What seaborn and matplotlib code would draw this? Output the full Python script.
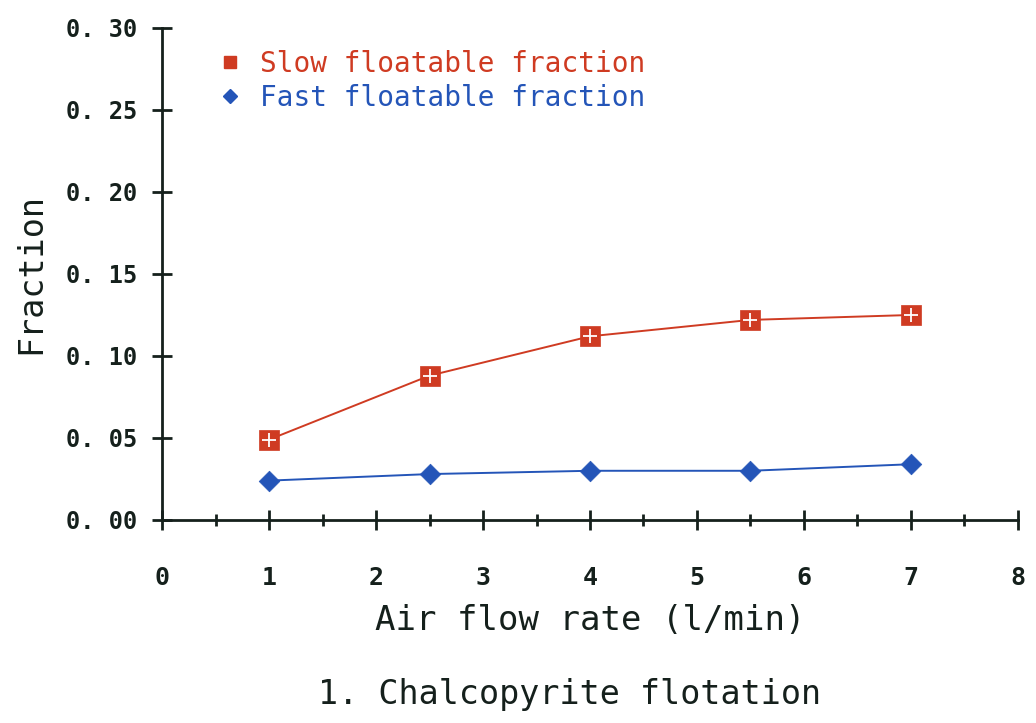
import matplotlib
matplotlib.use("Agg")
import matplotlib.pyplot as plt
from matplotlib.lines import Line2D
from matplotlib.ticker import MultipleLocator, FixedLocator
import seaborn as sns
import pandas as pd

# ---- data ----
air_flow = [1.0, 2.5, 4.0, 5.5, 7.0]
slow_fraction = [0.049, 0.088, 0.112, 0.122, 0.125]
fast_fraction = [0.024, 0.028, 0.030, 0.030, 0.034]
x_ticks = [0, 1, 2, 3, 4, 5, 6, 7, 8]
y_ticks = [0.00, 0.05, 0.10, 0.15, 0.20, 0.25, 0.30]
y_tick_labels = ["0. 00", "0. 05", "0. 10", "0. 15", "0. 20", "0. 25", "0. 30"]
series_names = ["Slow floatable fraction", "Fast floatable fraction"]

RED = "#cf3b22"
BLUE = "#2455b8"
INK = "#15201c"

sns.set_style("ticks")
plt.rcParams["font.family"] = ["DejaVu Sans Mono", "DejaVu Sans"]

fig = plt.figure(figsize=(10.36, 7.23), dpi=100)
ax = fig.add_axes([0.1564, 0.2808, 0.8262, 0.6805])

df_slow = pd.DataFrame({"x": air_flow, "y": slow_fraction})
df_fast = pd.DataFrame({"x": air_flow, "y": fast_fraction})

sns.lineplot(data=df_slow, x="x", y="y", ax=ax, color=RED, lw=1.4, zorder=2)
sns.lineplot(data=df_fast, x="x", y="y", ax=ax, color=BLUE, lw=1.4, zorder=2)
# slow markers: red square with white cross
sns.scatterplot(data=df_slow, x="x", y="y", ax=ax, marker="s", s=190,
                color=RED, edgecolor=RED, linewidth=0.5, zorder=3)
sns.scatterplot(data=df_slow, x="x", y="y", ax=ax, marker="+", s=110,
                color="white", linewidth=1.3, zorder=4)
# fast markers: blue diamond
sns.scatterplot(data=df_fast, x="x", y="y", ax=ax, marker="D", s=110,
                color=BLUE, edgecolor=BLUE, linewidth=0.5, zorder=3)

ax.set_xlim(0, 8)
ax.set_ylim(0, 0.30)
ax.xaxis.set_major_locator(FixedLocator(x_ticks))
ax.xaxis.set_minor_locator(MultipleLocator(0.5))
ax.yaxis.set_major_locator(FixedLocator(y_ticks))
ax.set_yticklabels(y_tick_labels)

for side in ["top", "right"]:
    ax.spines[side].set_visible(False)
for side in ["left", "bottom"]:
    ax.spines[side].set_color(INK)
    ax.spines[side].set_linewidth(2.0)

ax.tick_params(axis="both", which="major", direction="inout", length=14,
               width=2.0, color=INK, labelcolor=INK, labelsize=17)
ax.tick_params(axis="x", which="major", pad=26, labelsize=18)
ax.tick_params(axis="y", which="major", pad=11)
ax.tick_params(axis="x", which="minor", direction="inout", length=8,
               width=2.0, color=INK)
for lab in ax.get_xticklabels() + ax.get_yticklabels():
    lab.set_fontweight("bold")

ax.set_xlabel("Air flow rate (l/min)", fontsize=24.5, color=INK, labelpad=10.5)
ax.set_ylabel("Fraction", fontsize=24, color=INK, labelpad=13)
fig.text(0.55, 0.04, "1. Chalcopyrite flotation", fontsize=24,
         color=INK, ha="center", va="center")

handles = [
    Line2D([], [], linestyle="none", marker="s", markersize=9,
           color=RED),
    Line2D([], [], linestyle="none", marker="D", markersize=7,
           color=BLUE),
]
ax.legend(handles, series_names, loc="upper left",
          bbox_to_anchor=(0.04, 1.0), frameon=False, fontsize=20,
          labelcolor=[RED, BLUE], handlelength=0.8, handletextpad=0.7,
          labelspacing=0.2, borderpad=0.3)

fig.savefig("out.png", dpi=100, facecolor="white")
